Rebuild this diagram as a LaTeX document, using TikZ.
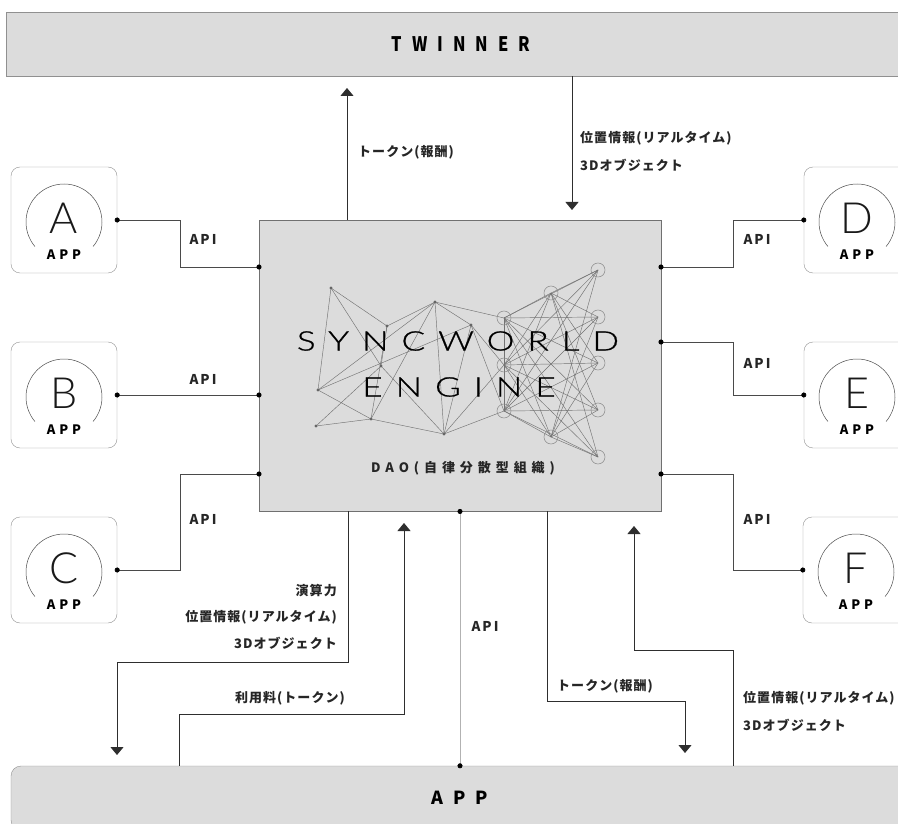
\documentclass[tikz,border=0pt]{standalone}
\usepackage{fontspec}
\setmainfont{Noto Sans CJK JP}
\newfontfamily\thinfont{Lato Light}
\usepackage{xcolor}
\usepackage{tikz}
\usetikzlibrary{arrows.meta}

\definecolor{panel}{HTML}{DCDCDC}
\definecolor{edge}{HTML}{909090}
\definecolor{frame}{HTML}{707070}
\definecolor{wire}{HTML}{4A4A4A}
\definecolor{flowc}{HTML}{2E2E2E}

\begin{document}
\begin{tikzpicture}[x=1pt, y=-1pt,
  bar/.style={draw=edge, fill=panel, minimum height=64pt, inner sep=0pt},
  engine/.style={draw=frame, line width=0.9pt, fill=panel, minimum width=402pt, minimum height=291pt},
  ring/.style={draw=wire, line width=0.5pt},
  appbox/.style={draw=edge, fill=white, rounded corners=9pt, minimum size=106pt, inner sep=0pt,
    path picture={\draw[ring] ([yshift=-2pt]path picture bounding box.center) ++(-40:38pt)
      arc[start angle=-40, end angle=220, radius=38pt];}},
  appletter/.style={font=\thinfont\fontsize{43}{43}\selectfont, inner sep=0pt, text=black!90},
  applabel/.style={font=\bfseries\fontsize{13}{13}\selectfont\addfontfeatures{LetterSpace=30}, inner sep=0pt},
  title/.style={font=\thinfont\fontsize{27}{27}\selectfont\addfontfeatures{FakeStretch=1.3,FakeBold=0.8,LetterSpace=48},
    inner sep=0pt, text=black},
  lab/.style={font=\bfseries\fontsize{13}{13}\selectfont\addfontfeatures{LetterSpace=8}, inner sep=0pt, text=black!85},
  apilab/.style={font=\bfseries\fontsize{13.5}{13.5}\selectfont\addfontfeatures{LetterSpace=15}, inner sep=0pt, text=black!85},
  api/.style={draw=wire, line width=0.7pt, {Circle[length=5pt,black]}-{Circle[length=5pt,black]},
    shorten <=-2.5pt, shorten >=-2.5pt},
  apiv/.style={api, draw=black!30},
  flow/.style={draw=flowc, line width=0.8pt, -{Triangle[width=13pt,length=8pt]}},
  mesh/.style={draw=black!55, line width=0.45pt},
  neuron/.style={draw=black!45, line width=0.55pt}]
  \useasboundingbox (0,0) rectangle (898,824);
  \clip (0,0) rectangle (898,824);

  % --- top and bottom bars ---
  \node[bar, minimum width=910pt] (twinner) at (461,44)
    {\bfseries\fontsize{20}{20}\selectfont\addfontfeatures{FakeStretch=0.82,LetterSpace=50}TWINNER};
  \node[bar, rounded corners=10pt, minimum width=898pt] (appbar) at (460,798)
    {\bfseries\fontsize{18}{18}\selectfont\addfontfeatures{LetterSpace=55}APP};

  % --- engine ---
  \node[engine] (engine) at (460,365.5) {};
  \coordinate (m1) at (331,288); \coordinate (m2) at (387,326); \coordinate (m3) at (435,302);
  \coordinate (m4) at (471,325); \coordinate (m5) at (381,366); \coordinate (m6) at (318,390);
  \coordinate (m7) at (371,419); \coordinate (m8) at (316,426); \coordinate (m9) at (444,434);
  \coordinate (c1) at (504,318); \coordinate (c2) at (504,365); \coordinate (c3) at (504,411);
  \coordinate (d1) at (551,293); \coordinate (d2) at (551,437);
  \coordinate (e1) at (598,270); \coordinate (e2) at (598,317); \coordinate (e3) at (598,363);
  \coordinate (e4) at (598,410); \coordinate (e5) at (598,457);
  \foreach \a/\b in {m1/m2, m1/m6, m1/m5, m2/m3, m2/m7, m2/m5, m3/m4, m3/c1, m3/m7, m3/m9,
                     m3/m6, m4/m9, m4/c3, m4/c2, m5/m9, m5/m8, m6/m7, m6/m4, m7/m8, m7/m9,
                     m9/c3, m9/c2, c1/c2, c2/c3}
    \draw[mesh] (\a) -- (\b);
  \foreach \i in {c1,c2,c3}
    \foreach \j in {d1,d2,e1,e2,e3,e4,e5}
      \draw[mesh] (\i) -- (\j);
  \foreach \i in {d1,d2}
    \foreach \j in {e1,e2,e3,e4,e5}
      \draw[mesh] (\i) -- (\j);
  \foreach \m in {m1,m2,m3,m4,m5,m6,m7,m8,m9}
    \fill[black!60] (\m) circle[radius=1.7pt];
  \foreach \c in {c1,c2,c3,d1,d2,e1,e2,e3,e4,e5}
    \draw[neuron] (\c) circle[radius=7pt];
  \node[title] (sync) at (458,341) {SYNCWORLD};
  \node[title] (eng)  at (459,387) {ENGINE};
  \node[font=\bfseries\fontsize{13}{13}\selectfont\addfontfeatures{LetterSpace=38}, inner sep=0pt, text=black!85]
    (dao) at (463,468) {DAO(自律分散型組織)};

  % --- app boxes ---
  \foreach \n/\x/\y in {A/64/220, B/64/395, C/64/570, D/857/220, E/857/395, F/856/570}{
    \node[appbox] (app\n) at (\x,\y) {};
    \node[appletter] at ([yshift=2pt]app\n.center) {\n};
    \node[applabel] at ([yshift=-35pt]app\n.center) {APP};
  }

  % --- api ports ---
  \coordinate (pA) at (259,267); \coordinate (pB) at (259,395); \coordinate (pC) at (259,474);
  \coordinate (pD) at (661,267); \coordinate (pE) at (661,342); \coordinate (pF) at (661,474);
  \draw[api] (appA.east) -- ++(63,0) |- (pA);
  \draw[api] (appB.east) -- (pB);
  \draw[api] (appC.east) -- ++(63,0) |- (pC);
  \draw[api] (pD) -- ++(72,0) |- (appD.west);
  \draw[api] (pE) -- ++(72,0) |- (appE.west);
  \draw[api] (pF) -- ++(72,0) |- (appF.west);
  \draw[apiv] (engine.south) -- (appbar.north);
  \node[apilab] at (203,239) {API};
  \node[apilab] at (203,379) {API};
  \node[apilab] at (203,519) {API};
  \node[apilab] at (757,239) {API};
  \node[apilab] at (757,363) {API};
  \node[apilab] at (757,519) {API};
  \node[apilab] at (485,626) {API};

  % --- flows to/from twinner ---
  \coordinate (upTip) at (347,88);
  \coordinate (dnTip) at (572,210);
  \draw[flow] (engine.north -| upTip) -- (upTip);
  \draw[flow] (twinner.south -| dnTip) -- (dnTip);
  \node[lab, anchor=west] (tokUp) at (358,152) {トークン(報酬)};
  \node[lab, anchor=west] (locUp) at (580,138) {位置情報(リアルタイム)};
  \node[lab, anchor=west] (objUp) at (580,165) {3Dオブジェクト};

  % --- flows to/from app layer ---
  \coordinate (bl1) at (348,662);   \coordinate (blTip) at (117,755);
  \coordinate (fee0) at (179,714);  \coordinate (feeTip) at (404,523);
  \coordinate (rw1) at (547,701);   \coordinate (rwTip) at (685,753);
  \coordinate (loc0) at (733,650);  \coordinate (locTip) at (634,526);
  \draw[flow] (engine.south -| bl1) -- (bl1) -| (blTip);
  \draw[flow] (appbar.north -| fee0) -- (fee0) -| (feeTip);
  \draw[flow] (engine.south -| rw1) -- (rw1) -| (rwTip);
  \draw[flow] (appbar.north -| loc0) -- (loc0) -| (locTip);
  \node[lab, anchor=east] (power) at (337,591) {演算力};
  \node[lab, anchor=east] (locL)  at (337,617) {位置情報(リアルタイム)};
  \node[lab, anchor=east] (objL)  at (337,643) {3Dオブジェクト};
  \node[lab, anchor=east] (fee)   at (345,698) {利用料(トークン)};
  \node[lab, anchor=west] (tokDn) at (557,686) {トークン(報酬)};
  \node[lab, anchor=west] (locR)  at (743,698) {位置情報(リアルタイム)};
  \node[lab, anchor=west] (objR)  at (743,725) {3Dオブジェクト};
\end{tikzpicture}
\end{document}
